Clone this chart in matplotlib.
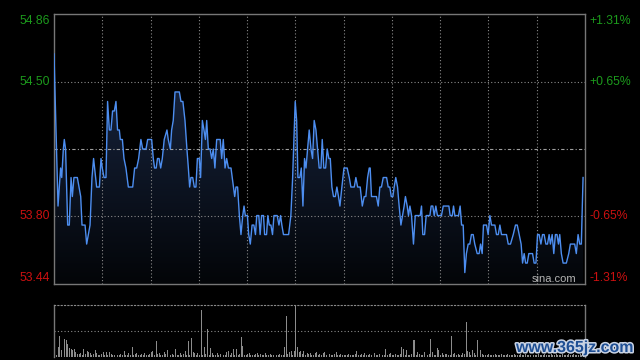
import matplotlib
matplotlib.use("Agg")
from matplotlib import pyplot as plt
from matplotlib import font_manager
from matplotlib.colors import LinearSegmentedColormap
import matplotlib.patheffects as pe
import numpy as np

# price vertices: minute index since open, price
minutes = [0, 2.5, 4.1, 4.8, 5.8, 6.4, 7.2, 8.5, 9.5, 10.6, 11.4, 12.4, 14.5, 16.6, 17.4, 19.3, 20.3, 22.4,
           23.6, 24.6, 26.5, 28.2, 29.2, 30.0, 31.1, 32.3, 33.3, 34.4, 35.4, 36.4, 37.5, 38.5, 39.5, 40.6,
           41.2, 42.5, 43.5, 44.7, 46.2, 48.9, 50.1, 51.4, 52.6, 54.0, 55.1, 57.2, 58.2, 60.7, 61.7, 62.5,
           63.5, 64.3, 65.3, 66.3, 67.3, 68.5, 70.2, 71.0, 72.3, 73.1, 74.1, 75.2, 77.9, 78.9, 80.1, 81.4,
           82.6, 83.5, 84.3, 85.1, 86.2, 87.2, 88.2, 89.1, 90.3, 91.1, 92.2, 93.2, 94.1, 94.9, 95.9, 97.0,
           98.0, 99.0, 100.0, 101.1, 103.3, 104.2, 105.2, 106.3, 107.3, 108.4, 110.0, 111.5, 112.3, 113.1,
           114.1, 115.2, 116.2, 117.3, 118.1, 118.9, 120.2, 121.0, 122.0, 123.1, 124.2, 125.2, 126.0, 127.3,
           128.1, 129.0, 130.2, 130.9, 132.1, 132.9, 133.8, 134.8, 135.8, 136.7, 138.7, 139.8, 140.8, 141.6,
           142.6, 145.8, 147.2, 148.3, 149.1, 149.9, 150.8, 151.6, 152.8, 153.7, 154.7, 155.7, 156.6, 157.6,
           158.6, 159.7, 160.7, 161.7, 162.8, 163.8, 164.8, 165.9, 166.7, 167.7, 168.8, 169.8, 170.8, 171.7,
           172.7, 173.7, 174.8, 175.8, 176.8, 177.7, 178.9, 180.2, 182.2, 183.5, 184.5, 186.6, 187.6, 188.7,
           190.3, 191.6, 192.8, 193.8, 194.9, 195.9, 196.5, 197.3, 200.4, 201.5, 202.5, 203.5, 204.6, 206.7,
           207.7, 208.7, 209.6, 210.6, 211.4, 212.4, 213.5, 214.5, 215.6, 216.6, 217.6, 218.4, 219.5, 220.3,
           221.2, 222.2, 223.4, 224.5, 227.6, 228.4, 229.2, 230.3, 231.3, 233.6, 234.4, 235.4, 236.3, 237.3,
           238.3, 240.8, 241.9, 245.4, 246.2, 247.5, 248.3, 249.1, 251.4, 252.4, 253.3, 254.3, 255.3, 256.3,
           257.4, 258.4, 259.4, 260.5, 261.5, 263.0, 264.2, 265.1, 266.1, 266.9, 268.8, 269.8, 270.9, 271.9,
           274.0, 275.0, 276.1, 277.1, 278.1, 281.2, 282.3, 283.7, 285.4, 286.8, 287.9, 289.1, 290.3, 291.2,
           292.2, 293.1, 294.1, 295.1, 297.4, 298.4, 299.5, 300.5, 301.5, 302.6, 303.6, 304.6, 305.7, 306.7,
           307.7, 308.5, 309.6, 310.6, 311.6, 312.6, 313.5, 314.3, 315.3, 316.4, 318.4, 319.9, 320.9, 323.6,
           324.6, 325.7, 326.7, 327.7, 328.8]
prices = [54.65, 53.85, 54.05, 54.00, 54.15, 54.20, 54.15, 53.75, 53.75, 54.00, 53.90, 54.00, 54.00, 53.90,
          53.75, 53.75, 53.65, 53.75, 54.00, 54.10, 53.95, 53.95, 54.10, 54.05, 54.00, 54.00, 54.40, 54.25,
          54.25, 54.35, 54.35, 54.40, 54.25, 54.25, 54.20, 54.20, 54.10, 54.05, 53.95, 53.95, 54.05, 54.05,
          54.10, 54.20, 54.15, 54.15, 54.20, 54.20, 54.10, 54.05, 54.05, 54.10, 54.10, 54.05, 54.10, 54.20,
          54.25, 54.20, 54.15, 54.25, 54.30, 54.45, 54.45, 54.40, 54.40, 54.30, 54.15, 54.05, 53.95, 54.00,
          54.00, 53.95, 53.95, 54.10, 54.10, 54.00, 54.30, 54.25, 54.20, 54.30, 54.15, 54.15, 54.10, 54.15,
          54.05, 54.20, 54.20, 54.10, 54.20, 54.05, 54.10, 54.05, 54.05, 53.95, 53.90, 53.95, 53.95, 53.80,
          53.70, 53.80, 53.85, 53.80, 53.80, 53.70, 53.65, 53.75, 53.75, 53.70, 53.80, 53.80, 53.70, 53.80,
          53.80, 53.70, 53.70, 53.80, 53.75, 53.75, 53.70, 53.80, 53.80, 53.75, 53.80, 53.75, 53.70, 53.70,
          53.80, 54.00, 54.20, 54.40, 54.30, 54.00, 54.00, 54.05, 53.85, 54.10, 54.05, 54.15, 54.25, 54.15,
          54.10, 54.30, 54.25, 54.15, 54.05, 54.05, 54.20, 54.05, 54.05, 54.15, 54.10, 54.10, 53.95, 53.90,
          53.90, 53.95, 53.90, 53.85, 53.95, 54.05, 54.05, 54.00, 53.95, 53.95, 54.00, 53.95, 53.95, 53.85,
          53.90, 53.90, 54.00, 54.05, 54.05, 53.90, 53.90, 53.85, 53.95, 53.95, 54.00, 54.00, 53.95, 53.95,
          53.90, 53.90, 53.95, 54.00, 53.95, 53.85, 53.75, 53.80, 53.85, 53.90, 53.85, 53.80, 53.85, 53.80,
          53.65, 53.80, 53.80, 53.85, 53.70, 53.70, 53.80, 53.80, 53.85, 53.85, 53.80, 53.85, 53.80, 53.80,
          53.85, 53.85, 53.80, 53.80, 53.85, 53.80, 53.80, 53.85, 53.75, 53.75, 53.50, 53.60, 53.65, 53.65,
          53.70, 53.70, 53.65, 53.60, 53.60, 53.65, 53.60, 53.75, 53.75, 53.70, 53.80, 53.75, 53.75, 53.70,
          53.70, 53.75, 53.70, 53.70, 53.65, 53.65, 53.70, 53.75, 53.75, 53.70, 53.65, 53.55, 53.60, 53.55,
          53.55, 53.60, 53.60, 53.55, 53.55, 53.70, 53.70, 53.65, 53.70, 53.70, 53.65, 53.65, 53.70, 53.65,
          53.70, 53.60, 53.70, 53.70, 53.65, 53.70, 53.60, 53.55, 53.55, 53.60, 53.65, 53.65, 53.60, 53.70,
          53.65, 53.65, 54.00]

# volume per minute, relative to the largest bar (=100)
volume = [53, 4, 20, 40, 13, 20, 35, 33, 25, 17, 15, 13, 15, 10, 6, 5, 7, 4, 15, 5,
          11, 10, 7, 4, 5, 13, 7, 4, 3, 5, 10, 4, 10, 3, 9, 5, 4, 3, 7, 4,
          3, 5, 4, 11, 3, 4, 7, 3, 20, 4, 5, 7, 3, 4, 5, 3, 7, 4, 3, 5,
          10, 11, 4, 30, 5, 7, 3, 4, 10, 5, 13, 4, 3, 5, 4, 15, 3, 4, 7, 3,
          5, 11, 4, 30, 3, 37, 10, 7, 4, 7, 3, 91, 4, 19, 5, 53, 4, 17, 7, 3,
          4, 7, 3, 5, 7, 4, 3, 9, 11, 4, 7, 15, 3, 15, 4, 5, 38, 22, 3, 4,
          5, 7, 3, 4, 3, 5, 7, 4, 5, 3, 4, 8, 3, 4, 5, 3, 4, 5, 3, 4,
          5, 3, 4, 20, 78, 5, 10, 11, 4, 11, 100, 20, 10, 11, 5, 12, 4, 7, 5, 7,
          4, 3, 7, 9, 4, 5, 3, 7, 10, 4, 3, 5, 4, 3, 5, 10, 4, 3, 5, 4,
          3, 4, 3, 5, 4, 3, 4, 5, 11, 3, 4, 5, 3, 7, 4, 3, 5, 4, 3, 7,
          4, 3, 5, 22, 4, 3, 15, 4, 5, 7, 3, 4, 5, 3, 4, 5, 20, 15, 4, 13,
          3, 4, 5, 33, 33, 4, 10, 5, 3, 4, 9, 3, 4, 5, 35, 9, 4, 3, 18, 13,
          4, 7, 3, 5, 5, 3, 4, 41, 5, 7, 3, 5, 4, 3, 7, 5, 68, 11, 10, 4,
          13, 7, 4, 33, 5, 13, 5, 3, 4, 3, 5, 4, 3, 4, 5, 3, 4, 3, 5, 4,
          3, 4, 5, 3, 4, 3, 5, 4, 3, 4, 5, 3, 4, 5, 3, 4, 3, 5, 4, 3,
          4, 5, 3, 4, 3, 5, 4, 3, 4, 5, 3, 4, 5, 3, 4, 3, 5, 4, 3, 4,
          5, 3, 4, 5, 3, 4, 3, 5, 4, 6, 8]

prev_close = 54.15
price_ticks = [54.86, 54.50, 53.80, 53.44]
price_labels = ['54.86', '54.50', '53.80', '53.44']
pct_labels = ['+1.31%', '+0.65%', '-0.65%', '-1.31%']
tick_colors = ['#1c9a1c', '#1c9a1c', '#cc1010', '#cc1010']

names = {f.name for f in font_manager.fontManager.ttflist}
label_font = 'Liberation Sans Narrow' if 'Liberation Sans Narrow' in names else 'Liberation Sans'
label_size = 9.5 if label_font == 'Liberation Sans Narrow' else 8.8

grid_col = '#8a8a8a'
spine_col = '#777777'

fig = plt.figure(figsize=(6.4, 3.6), dpi=100, facecolor='black')
ax = fig.add_axes([54/640, 1-284/360, 531/640, 270/360], facecolor='black')
axv = fig.add_axes([54/640, 1-357/360, 531/640, 52/360], facecolor='black')

ax.set_xlim(0, 330)
ax.set_ylim(53.44, 54.86)

# gradient fill under the price line
fill = ax.fill_between(minutes, prices, 53.44, facecolor='none', edgecolor='none')
cmap = LinearSegmentedColormap.from_list('fill', ['#030508', '#1d2d4e'])
grad = np.linspace(0, 1, 256).reshape(-1, 1)
im = ax.imshow(grad, extent=[0, 330, 53.44, 54.86], origin='lower', aspect='auto', cmap=cmap, zorder=1)
im.set_clip_path(fill.get_paths()[0], transform=ax.transData)

ax.plot(minutes, prices, color='#4d8ef0', lw=1.0, zorder=3)

for m in range(30, 330, 30):
    ax.axvline(m, color=grid_col, lw=0.8, ls=(0, (1, 2)), zorder=2)
for p in [54.50, 53.80]:
    ax.axhline(p, color=grid_col, lw=0.8, ls=(0, (1, 2)), zorder=2)
ax.axhline(prev_close, color='#a0a0a0', lw=0.8, ls=(0, (3, 2, 1, 2)), zorder=2)

ax.set_xticks([])
ax.set_yticks([])
for s in ax.spines.values():
    s.set_color(spine_col)
    s.set_linewidth(1.0)

tr = ax.get_yaxis_transform()
vas = ['top', 'center', 'center', 'bottom']
for p, lab, pl, c, va in zip(price_ticks, price_labels, pct_labels, tick_colors, vas):
    yy = p - 0.004 if va == 'top' else p
    ax.text(-0.008, yy, lab, transform=tr, ha='right', va=va, color=c, fontsize=label_size, family=label_font, clip_on=False)
    ax.text(1.009, yy, pl, transform=tr, ha='left', va=va, color=c, fontsize=label_size, family=label_font, clip_on=False)

fig.text(532/640, 1-282/360, 'sina.com', color='#b4b4b4', fontsize=8, family='Liberation Sans', va='baseline')

# volume panel
axv.bar(range(len(volume)), volume, width=0.6, color='#8c8c8c', linewidth=0)
axv.set_xlim(-0.6, 330)
axv.set_ylim(0, 100)
axv.axhline(50, color=grid_col, lw=0.8, ls=(0, (1, 2)))
axv.set_xticks([])
axv.set_yticks([])
axv.spines['bottom'].set_visible(False)
axv.spines['top'].set_color(grid_col)
axv.spines['top'].set_linestyle((0, (1, 2)))
axv.spines['top'].set_linewidth(0.8)
for k in ['left', 'right']:
    axv.spines[k].set_color(spine_col)
    axv.spines[k].set_linewidth(1.0)

fig.text(516/640, 1-352/360, 'www.365jz.com', color='#1f4f94', fontsize=11.5, fontweight='bold',
         family='Liberation Sans', va='baseline',
         path_effects=[pe.Stroke(linewidth=2.2, foreground='#c9d3e4'), pe.Normal()])

fig.savefig('out.png', dpi=100, facecolor='black')
